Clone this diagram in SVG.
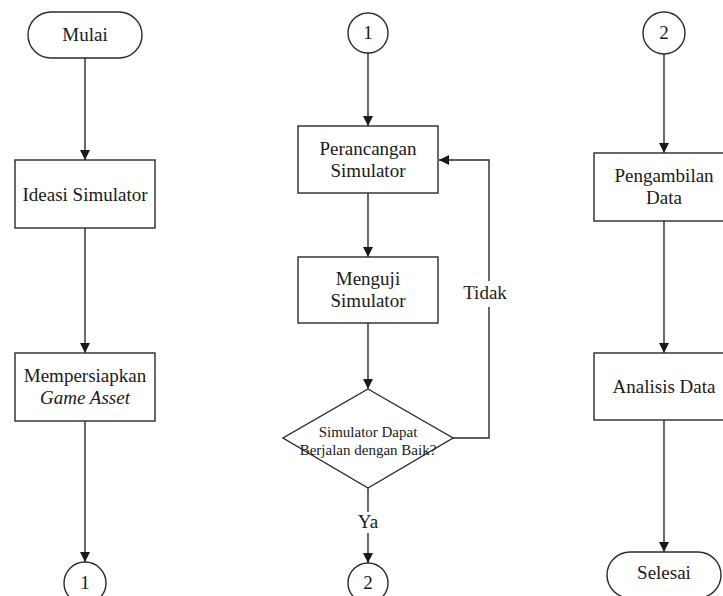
<svg xmlns="http://www.w3.org/2000/svg" width="723" height="596" viewBox="0 0 723 596">
<defs>
<style>
.shape{fill:#fff;stroke:#2a2a2a;stroke-width:1.4}
.line{fill:none;stroke:#2a2a2a;stroke-width:1.4}
text{font-size:19px;fill:#1a1a1a;text-anchor:middle}
.small{font-size:15px}
.it{font-style:italic}
</style>
<marker id="arr" viewBox="0 0 10 10" refX="10" refY="5" markerWidth="10" markerHeight="10" markerUnits="userSpaceOnUse" orient="auto">
<path d="M0,0 L10,5 L0,10 Z" fill="#1a1a1a"/>
</marker>
</defs>
<rect width="723" height="596" fill="#fff"/>
<g font-family="Liberation Serif, DejaVu Serif, serif">
<g id="connectors">
<line class="line" x1="85" y1="58" x2="85" y2="160" marker-end="url(#arr)"/>
<line class="line" x1="85" y1="228" x2="85" y2="353" marker-end="url(#arr)"/>
<line class="line" x1="85" y1="421" x2="85" y2="562" marker-end="url(#arr)"/>
<line class="line" x1="368" y1="53" x2="368" y2="126" marker-end="url(#arr)"/>
<line class="line" x1="368" y1="193" x2="368" y2="257" marker-end="url(#arr)"/>
<line class="line" x1="368" y1="323" x2="368" y2="389" marker-end="url(#arr)"/>
<line class="line" x1="368" y1="488" x2="368" y2="512"/>
<line class="line" x1="368" y1="533" x2="368" y2="563" marker-end="url(#arr)"/>
<polyline class="line" points="453,438 489,438 489,160 439,160" marker-end="url(#arr)"/>
<line class="line" x1="664" y1="54" x2="664" y2="153" marker-end="url(#arr)"/>
<line class="line" x1="664" y1="221" x2="664" y2="353" marker-end="url(#arr)"/>
<line class="line" x1="664" y1="420" x2="664" y2="552" marker-end="url(#arr)"/>
<rect x="460" y="281" width="50" height="26" fill="#fff"/>
<text x="485" y="299">Tidak</text>
<text x="368" y="528">Ya</text>
</g>
<g id="mulai">
<rect class="shape" x="28" y="12" width="114" height="46" rx="23"/>
<text x="85" y="41">Mulai</text>
</g>
<g id="ideasi">
<rect class="shape" x="15" y="160" width="140" height="68"/>
<text x="85" y="201">Ideasi Simulator</text>
</g>
<g id="mempersiapkan">
<rect class="shape" x="15" y="353" width="140" height="68"/>
<text x="85" y="382">Mempersiapkan</text>
<text x="85" y="404" class="it">Game Asset</text>
</g>
<g id="conn1-out">
<circle class="shape" cx="85" cy="583" r="21"/>
<text x="85" y="589">1</text>
</g>
<g id="conn1-in">
<circle class="shape" cx="368" cy="33" r="20"/>
<text x="368" y="39">1</text>
</g>
<g id="perancangan">
<rect class="shape" x="298" y="126" width="140" height="67"/>
<text x="368" y="155">Perancangan</text>
<text x="368" y="177">Simulator</text>
</g>
<g id="menguji">
<rect class="shape" x="298" y="257" width="140" height="66"/>
<text x="368" y="285">Menguji</text>
<text x="368" y="307">Simulator</text>
</g>
<g id="keputusan">
<polygon class="shape" points="368,389 453,438 368,488 283,438"/>
<text x="368" y="437" class="small">Simulator Dapat</text>
<text x="368" y="455" class="small">Berjalan dengan Baik?</text>
</g>
<g id="conn2-out">
<circle class="shape" cx="368" cy="583" r="20"/>
<text x="368" y="589">2</text>
</g>
<g id="conn2-in">
<circle class="shape" cx="664" cy="33" r="21"/>
<text x="664" y="39">2</text>
</g>
<g id="pengambilan">
<rect class="shape" x="594" y="153" width="140" height="68"/>
<text x="664" y="182">Pengambilan</text>
<text x="664" y="204">Data</text>
</g>
<g id="analisis">
<rect class="shape" x="594" y="353" width="140" height="67"/>
<text x="664" y="393">Analisis Data</text>
</g>
<g id="selesai">
<rect class="shape" x="607" y="552" width="114" height="46" rx="23"/>
<text x="664" y="579">Selesai</text>
</g>
</g>
</svg>
